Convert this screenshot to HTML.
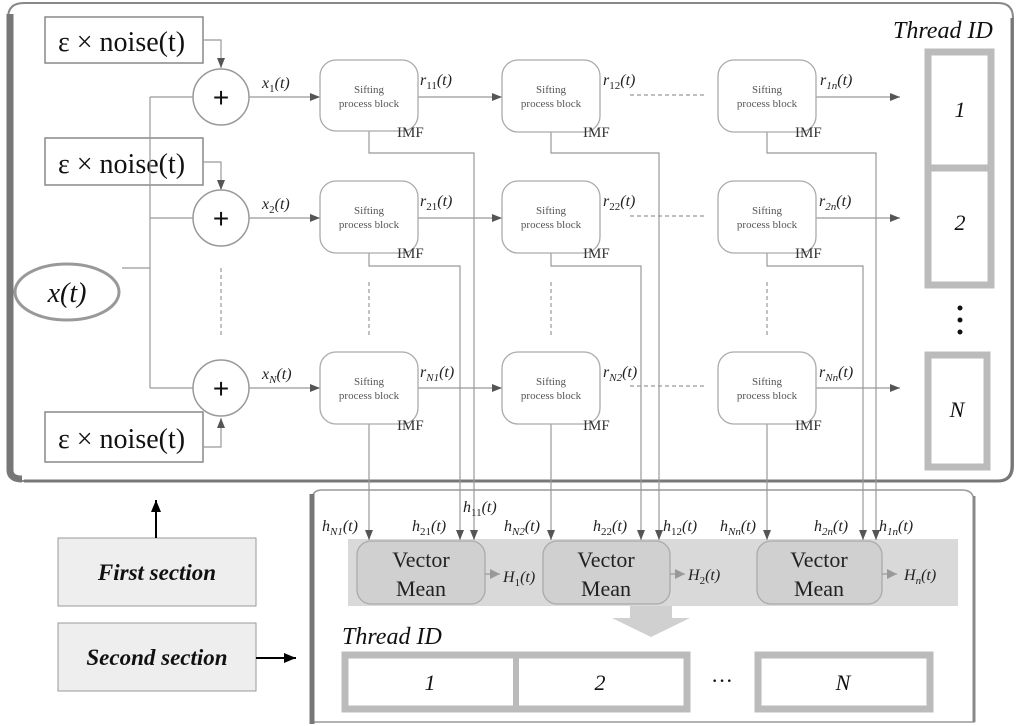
<!DOCTYPE html>
<html><head><meta charset="utf-8"><style>
html,body{margin:0;padding:0;background:#fff;}
svg{display:block;}
text{font-family:"Liberation Serif",serif;}
.s{font-size:11px;fill:#555;text-anchor:middle;}
.m{font-size:16px;font-style:italic;fill:#222;}
.imf{font-size:15px;fill:#333;}
.nz{font-size:28px;fill:#111;}
</style></head><body>
<svg width="1024" height="726" viewBox="0 0 1024 726" xmlns="http://www.w3.org/2000/svg">
<defs>
<marker id="a" markerWidth="10" markerHeight="8" refX="10" refY="4" orient="auto" markerUnits="userSpaceOnUse"><path d="M0,0L10,4L0,8z" fill="#555"/></marker>
<marker id="ab" markerWidth="12" markerHeight="10" refX="12" refY="5" orient="auto" markerUnits="userSpaceOnUse"><path d="M0,0L12,5L0,10z" fill="#000"/></marker>
<marker id="ag" markerWidth="10" markerHeight="10" refX="10" refY="5" orient="auto" markerUnits="userSpaceOnUse"><path d="M0,0L10,5L0,10z" fill="#999"/></marker>
</defs>
<!-- top section box -->
<path d="M24,3 H998 Q1013,3 1013,18 V466 Q1013,481 998,481 H24 Q8,481 8,466 V18 Q8,3 24,3Z" fill="#fff" stroke="#888" stroke-width="2"/>
<path d="M10,14 V470 Q10,479 22,479" fill="none" stroke="#777" stroke-width="7"/>
<path d="M24,481 H998 Q1012,481 1012,466 V18" fill="none" stroke="#777" stroke-width="3"/>

<!-- second section box -->
<path d="M322,490 H962 Q974,490 974,502 V722 H312 V500 Q312,490 322,490Z" fill="#fff" stroke="#999" stroke-width="1.5"/>
<line x1="312" y1="494" x2="312" y2="724" stroke="#777" stroke-width="5"/>
<line x1="974" y1="496" x2="974" y2="722" stroke="#888" stroke-width="3"/>
<rect x="348" y="539" width="610" height="67" fill="#d9d9d9"/>

<!-- noise boxes -->
<g stroke="#888" stroke-width="1.5" fill="#fff">
<rect x="45" y="17" width="158" height="46"/>
<rect x="45" y="138" width="158" height="47"/>
<rect x="45" y="412" width="158" height="50"/>
</g>
<text class="nz" x="58" y="51">ε × noise(t)</text>
<text class="nz" x="58" y="173">ε × noise(t)</text>
<text class="nz" x="58" y="448">ε × noise(t)</text>

<g stroke="#999" stroke-width="1.2" fill="none">
<path d="M203,40 H221 V68" marker-end="url(#a)"/>
<path d="M203,162 H221 V190" marker-end="url(#a)"/>
<path d="M203,447 H221 V418" marker-end="url(#a)"/>
<path d="M150,97 V388 M150,97 H193 M150,218 H193 M150,388 H193 M122,268 H150"/>
<path d="M221,268 V338 M369,282 V338 M551,282 V338 M767,282 V338" stroke-dasharray="4,3"/>
<path d="M249,97 H320" marker-end="url(#a)"/>
<path d="M249,218 H320" marker-end="url(#a)"/>
<path d="M249,388 H320" marker-end="url(#a)"/>
<path d="M418,97 H502" marker-end="url(#a)"/>
<path d="M418,218 H502" marker-end="url(#a)"/>
<path d="M418,388 H502" marker-end="url(#a)"/>
<path d="M630,95 H705 M630,216 H705 M630,386 H705" stroke-dasharray="4,3"/>
<path d="M816,97 H900" marker-end="url(#a)"/>
<path d="M816,218 H900" marker-end="url(#a)"/>
<path d="M816,388 H900" marker-end="url(#a)"/>
<path d="M369,130 V153 H474 V540" marker-end="url(#a)"/>
<path d="M369,253 V266 H460 V540" marker-end="url(#a)"/>
<path d="M369,423 V540" marker-end="url(#a)"/>
<path d="M551,132 V153 H659 V540" marker-end="url(#a)"/>
<path d="M551,253 V266 H641 V540" marker-end="url(#a)"/>
<path d="M551,423 V540" marker-end="url(#a)"/>
<path d="M767,132 V153 H876 V540" marker-end="url(#a)"/>
<path d="M767,253 V266 H863 V540" marker-end="url(#a)"/>
<path d="M767,423 V540" marker-end="url(#a)"/>
</g>

<!-- plus circles -->
<g stroke="#999" stroke-width="1.5" fill="#fff">
<circle cx="221" cy="97" r="28"/><circle cx="221" cy="218" r="28"/><circle cx="221" cy="388" r="28"/>
</g>
<g font-size="28" text-anchor="middle" fill="#111">
<text x="221" y="107" style="font-family:'Liberation Sans',sans-serif">+</text>
<text x="221" y="228" style="font-family:'Liberation Sans',sans-serif">+</text>
<text x="221" y="398" style="font-family:'Liberation Sans',sans-serif">+</text>
</g>
<ellipse cx="67" cy="292" rx="52" ry="28" fill="#fff" stroke="#999" stroke-width="3"/>
<text x="67" y="302" text-anchor="middle" font-size="28" font-style="italic" fill="#111">x(t)</text>

<!-- sifting blocks -->
<g stroke="#aaa" stroke-width="1.3" fill="#fff">
<rect x="320" y="60" width="98" height="71" rx="16"/>
<rect x="502" y="60" width="98" height="72" rx="16"/>
<rect x="718" y="60" width="98" height="72" rx="16"/>
<rect x="320" y="181" width="98" height="72" rx="16"/>
<rect x="502" y="181" width="98" height="72" rx="16"/>
<rect x="718" y="181" width="98" height="72" rx="16"/>
<rect x="320" y="352" width="98" height="72" rx="16"/>
<rect x="502" y="352" width="98" height="72" rx="16"/>
<rect x="718" y="352" width="98" height="72" rx="16"/>
</g>
<text class="s" x="369" y="93">Sifting</text><text class="s" x="369" y="107">process block</text>
<text class="s" x="551" y="93">Sifting</text><text class="s" x="551" y="107">process block</text>
<text class="s" x="767" y="93">Sifting</text><text class="s" x="767" y="107">process block</text>
<text class="s" x="369" y="214">Sifting</text><text class="s" x="369" y="228">process block</text>
<text class="s" x="551" y="214">Sifting</text><text class="s" x="551" y="228">process block</text>
<text class="s" x="767" y="214">Sifting</text><text class="s" x="767" y="228">process block</text>
<text class="s" x="369" y="385">Sifting</text><text class="s" x="369" y="399">process block</text>
<text class="s" x="551" y="385">Sifting</text><text class="s" x="551" y="399">process block</text>
<text class="s" x="767" y="385">Sifting</text><text class="s" x="767" y="399">process block</text>
<text class="imf" x="397" y="137">IMF</text><text class="imf" x="583" y="137">IMF</text><text class="imf" x="795" y="137">IMF</text>
<text class="imf" x="397" y="258">IMF</text><text class="imf" x="583" y="258">IMF</text><text class="imf" x="795" y="258">IMF</text>
<text class="imf" x="397" y="430">IMF</text><text class="imf" x="583" y="430">IMF</text><text class="imf" x="795" y="430">IMF</text>

<text class="m" x="262" y="88">x<tspan font-size="11" font-style="normal" dy="4">1</tspan><tspan dy="-4">(t)</tspan></text>
<text class="m" x="262" y="209">x<tspan font-size="11" font-style="normal" dy="4">2</tspan><tspan dy="-4">(t)</tspan></text>
<text class="m" x="262" y="379">x<tspan font-size="11" dy="4">N</tspan><tspan dy="-4">(t)</tspan></text>
<text class="m" x="420" y="85">r<tspan font-size="11" font-style="normal" dy="4">11</tspan><tspan dy="-4">(t)</tspan></text>
<text class="m" x="603" y="85">r<tspan font-size="11" font-style="normal" dy="4">12</tspan><tspan dy="-4">(t)</tspan></text>
<text class="m" x="820" y="85">r<tspan font-size="11" dy="4">1n</tspan><tspan dy="-4">(t)</tspan></text>
<text class="m" x="420" y="206">r<tspan font-size="11" font-style="normal" dy="4">21</tspan><tspan dy="-4">(t)</tspan></text>
<text class="m" x="603" y="206">r<tspan font-size="11" font-style="normal" dy="4">22</tspan><tspan dy="-4">(t)</tspan></text>
<text class="m" x="819" y="206">r<tspan font-size="11" dy="4">2n</tspan><tspan dy="-4">(t)</tspan></text>
<text class="m" x="420" y="377">r<tspan font-size="11" dy="4">N1</tspan><tspan dy="-4">(t)</tspan></text>
<text class="m" x="603" y="377">r<tspan font-size="11" dy="4">N2</tspan><tspan dy="-4">(t)</tspan></text>
<text class="m" x="819" y="377">r<tspan font-size="11" dy="4">Nn</tspan><tspan dy="-4">(t)</tspan></text>

<!-- top thread ID -->
<text x="893" y="38" font-size="24" font-style="italic" fill="#111">Thread ID</text>
<g fill="#fff" stroke="#bbb" stroke-width="7">
<rect x="928" y="52" width="63" height="233"/>
<rect x="928" y="355" width="59" height="112"/>
</g>
<line x1="928" y1="168" x2="991" y2="168" stroke="#bbb" stroke-width="7"/>
<g font-size="22" font-style="italic" text-anchor="middle" fill="#111">
<text x="960" y="117">1</text><text x="960" y="230">2</text><text x="957" y="417">N</text>
</g>
<g fill="#111"><circle cx="960" cy="308" r="2.5"/><circle cx="960" cy="320" r="2.5"/><circle cx="960" cy="332" r="2.5"/></g>

<!-- left section labels -->
<rect x="58" y="538" width="198" height="68" fill="#eee" stroke="#999"/>
<rect x="58" y="623" width="198" height="68" fill="#eee" stroke="#999"/>
<text x="157" y="580" text-anchor="middle" font-size="23" font-weight="bold" font-style="italic" fill="#111">First section</text>
<text x="157" y="665" text-anchor="middle" font-size="23" font-weight="bold" font-style="italic" fill="#111">Second section</text>
<line x1="156" y1="538" x2="156" y2="500" stroke="#000" stroke-width="2" marker-end="url(#ab)"/>
<line x1="256" y1="658" x2="296" y2="658" stroke="#000" stroke-width="2" marker-end="url(#ab)"/>

<!-- vector mean -->
<g fill="#d0d0d0" stroke="#aaa" stroke-width="1.3">
<rect x="357" y="541" width="128" height="63" rx="14"/>
<rect x="543" y="541" width="127" height="63" rx="14"/>
<rect x="757" y="541" width="125" height="63" rx="14"/>
</g>
<g font-size="22" text-anchor="middle" fill="#222">
<text x="421" y="567">Vector</text><text x="421" y="596">Mean</text>
<text x="606" y="567">Vector</text><text x="606" y="596">Mean</text>
<text x="819" y="567">Vector</text><text x="819" y="596">Mean</text>
</g>
<g stroke="#999" stroke-width="1.2">
<line x1="485" y1="574" x2="500" y2="574" marker-end="url(#ag)"/>
<line x1="670" y1="574" x2="685" y2="574" marker-end="url(#ag)"/>
<line x1="882" y1="574" x2="897" y2="574" marker-end="url(#ag)"/>
</g>
<text class="m" x="503" y="582">H<tspan font-size="11" font-style="normal" dy="4">1</tspan><tspan dy="-4">(t)</tspan></text>
<text class="m" x="688" y="580">H<tspan font-size="11" font-style="normal" dy="4">2</tspan><tspan dy="-4">(t)</tspan></text>
<text class="m" x="904" y="580">H<tspan font-size="11" dy="4">n</tspan><tspan dy="-4">(t)</tspan></text>
<text class="m" x="322" y="531">h<tspan font-size="11" dy="4">N1</tspan><tspan dy="-4">(t)</tspan></text>
<text class="m" x="412" y="531">h<tspan font-size="11" font-style="normal" dy="4">21</tspan><tspan dy="-4">(t)</tspan></text>
<text class="m" x="463" y="512">h<tspan font-size="11" font-style="normal" dy="4">11</tspan><tspan dy="-4">(t)</tspan></text>
<text class="m" x="504" y="531">h<tspan font-size="11" dy="4">N2</tspan><tspan dy="-4">(t)</tspan></text>
<text class="m" x="593" y="531">h<tspan font-size="11" font-style="normal" dy="4">22</tspan><tspan dy="-4">(t)</tspan></text>
<text class="m" x="663" y="531">h<tspan font-size="11" font-style="normal" dy="4">12</tspan><tspan dy="-4">(t)</tspan></text>
<text class="m" x="720" y="531">h<tspan font-size="11" dy="4">Nn</tspan><tspan dy="-4">(t)</tspan></text>
<text class="m" x="814" y="531">h<tspan font-size="11" dy="4">2n</tspan><tspan dy="-4">(t)</tspan></text>
<text class="m" x="879" y="531">h<tspan font-size="11" dy="4">1n</tspan><tspan dy="-4">(t)</tspan></text>
<path d="M630,606 H672 V618 H690 L651,637 L612,618 H630Z" fill="#d0d0d0"/>
<text x="342" y="644" font-size="24" font-style="italic" fill="#111">Thread ID</text>
<g fill="#fff" stroke="#bbb" stroke-width="7">
<rect x="345" y="655" width="342" height="54"/>
<rect x="758" y="655" width="172" height="54"/>
</g>
<line x1="516" y1="655" x2="516" y2="709" stroke="#bbb" stroke-width="6"/>
<g font-size="22" font-style="italic" text-anchor="middle" fill="#111">
<text x="430" y="690">1</text><text x="600" y="690">2</text><text x="843" y="690">N</text>
</g>
<text x="722" y="688" text-anchor="middle" font-size="22" fill="#111">···</text>
</svg>
</body></html>
